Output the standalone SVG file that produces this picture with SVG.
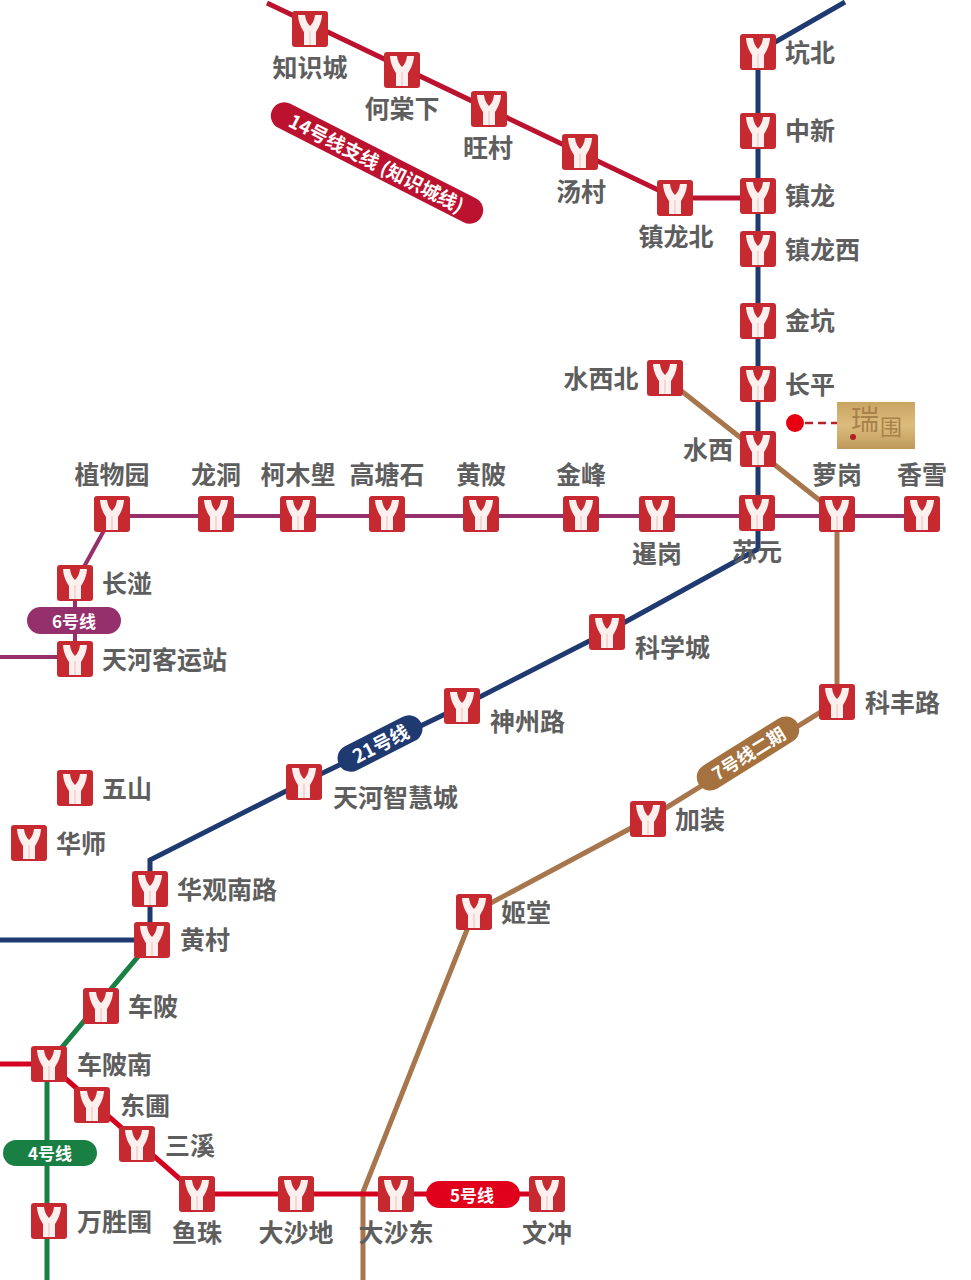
<svg xmlns="http://www.w3.org/2000/svg" width="971" height="1280" viewBox="0 0 971 1280">
<style>
text{font-family:"Noto Sans CJK SC","Liberation Sans",sans-serif}
.n{font-size:25px;font-weight:700;fill:#5e5e5e;text-anchor:middle;dominant-baseline:central}
.s{text-anchor:start}
.b{font-size:17px;font-weight:700;fill:#fff;text-anchor:middle;dominant-baseline:central}
.l{fill:none;stroke-width:5}
.red{stroke:#bb1230}.navy{stroke:#1f3a70}.pur{stroke:#96306c;stroke-width:4}.brn{stroke:#a8764c}.grn{stroke:#1a7f42}.r5{stroke:#d5001f}
</style>
<defs>
<linearGradient id="gold" x1="0" y1="0" x2="0" y2="1"><stop offset="0" stop-color="#c9a562"/><stop offset="0.5" stop-color="#dcbc7e"/><stop offset="1" stop-color="#bd9a5c"/></linearGradient>
<g id="st"><rect x="-18" y="-18" width="36" height="36" rx="3" fill="#c62a30"/><path d="M-12,-14H-5C-4.500,-9 -2.500,-5.500 0,-3C2.500,-5.500 4.500,-9 5,-14H12C11.500,-6 8.500,-1 6,3V16H-6V3C-8.500,-1 -11.500,-6 -12,-14Z" fill="#fbf0ee"/><path d="M0,2V16" stroke="#f0cfcb" stroke-width="1.500"/></g>
</defs>
<rect width="971" height="1280" fill="#fff"/>
<g id="connectors">
<path class="l red" d="M267,3L675,198H758"/>
<path class="l navy" d="M845,2L758,52V549L607,632L462,706L304,782L150,860V940"/>
<path class="l navy" d="M0,940H152"/>
<path class="l brn" d="M665,378L837,514V702L648,819L474,912L363,1192V1280"/>
<path class="l pur" d="M922,516H112L75,583V659"/>
<path class="l pur" d="M0,657H75"/>
<path class="l grn" d="M152,940L48,1064L47,1080V1280"/>
<path class="l r5" d="M0,1064H49L197,1194H547"/>
<path d="M805,423H838" fill="none" stroke="#b8202a" stroke-width="2.500" stroke-dasharray="8 5"/>
</g>
<g id="st-zhishicheng"><use href="#st" x="310" y="29"/><text class="n" x="310" y="66">知识城</text></g>
<g id="st-hetangxia"><use href="#st" x="402" y="70"/><text class="n" x="402" y="107">何棠下</text></g>
<g id="st-wangcun"><use href="#st" x="489" y="109"/><text class="n" x="488" y="146">旺村</text></g>
<g id="st-tangcun"><use href="#st" x="580" y="152"/><text class="n" x="581" y="190">汤村</text></g>
<g id="st-zhenlongbei"><use href="#st" x="675" y="198"/><text class="n" x="676" y="235">镇龙北</text></g>
<g id="st-kengbei"><use href="#st" x="758" y="52"/><text class="n s" x="785" y="51">坑北</text></g>
<g id="st-zhongxin"><use href="#st" x="758" y="131"/><text class="n s" x="785" y="129">中新</text></g>
<g id="st-zhenlong"><use href="#st" x="758" y="196"/><text class="n s" x="785" y="194">镇龙</text></g>
<g id="st-zhenlongxi"><use href="#st" x="758" y="249"/><text class="n s" x="785" y="248">镇龙西</text></g>
<g id="st-jinkeng"><use href="#st" x="758" y="321"/><text class="n s" x="785" y="319">金坑</text></g>
<g id="st-changping"><use href="#st" x="758" y="384"/><text class="n s" x="785" y="383">长平</text></g>
<g id="st-shuixi"><use href="#st" x="758" y="449"/><text class="n" x="708" y="448">水西</text></g>
<g id="st-shuixibei"><use href="#st" x="665" y="378"/><text class="n" x="601" y="377">水西北</text></g>
<g id="st-suyuan"><use href="#st" x="757" y="513"/><text class="n" x="757" y="550">苏元</text></g>
<g id="st-luogang"><use href="#st" x="837" y="514"/><text class="n" x="837" y="473">萝岗</text></g>
<g id="st-xiangxue"><use href="#st" x="922" y="514"/><text class="n" x="922" y="473">香雪</text></g>
<g id="st-xiangang"><use href="#st" x="657" y="514"/><text class="n" x="657" y="552">暹岗</text></g>
<g id="st-jinfeng"><use href="#st" x="581" y="514"/><text class="n" x="581" y="473">金峰</text></g>
<g id="st-huangbei"><use href="#st" x="481" y="514"/><text class="n" x="481" y="473">黄陂</text></g>
<g id="st-gaotangshi"><use href="#st" x="387" y="514"/><text class="n" x="387" y="473">高塘石</text></g>
<g id="st-kemulang"><use href="#st" x="298" y="514"/><text class="n" x="298" y="473">柯木塱</text></g>
<g id="st-longdong"><use href="#st" x="216" y="514"/><text class="n" x="216" y="473">龙洞</text></g>
<g id="st-zhiwuyuan"><use href="#st" x="112" y="514"/><text class="n" x="112" y="473">植物园</text></g>
<g id="st-changban"><use href="#st" x="75" y="583"/><text class="n s" x="102" y="582">长湴</text></g>
<g id="st-tianhekeyunzhan"><use href="#st" x="75" y="659"/><text class="n s" x="102" y="658">天河客运站</text></g>
<g id="st-kexuecheng"><use href="#st" x="607" y="632"/><text class="n s" x="635" y="646">科学城</text></g>
<g id="st-shenzhoulu"><use href="#st" x="462" y="706"/><text class="n s" x="490" y="720">神州路</text></g>
<g id="st-tianhezhihuicheng"><use href="#st" x="304" y="782"/><text class="n s" x="333" y="796">天河智慧城</text></g>
<g id="st-huaguannanlu"><use href="#st" x="150" y="889"/><text class="n s" x="177" y="888">华观南路</text></g>
<g id="st-huangcun"><use href="#st" x="152" y="940"/><text class="n s" x="180" y="938">黄村</text></g>
<g id="st-wushan"><use href="#st" x="75" y="788"/><text class="n s" x="102" y="787">五山</text></g>
<g id="st-huashi"><use href="#st" x="29" y="843"/><text class="n s" x="56" y="842">华师</text></g>
<g id="st-chebei"><use href="#st" x="101" y="1006"/><text class="n s" x="128" y="1005">车陂</text></g>
<g id="st-chebeinan"><use href="#st" x="49" y="1064"/><text class="n s" x="77" y="1063">车陂南</text></g>
<g id="st-dongpu"><use href="#st" x="92" y="1105"/><text class="n s" x="120" y="1104">东圃</text></g>
<g id="st-sanxi"><use href="#st" x="137" y="1144"/><text class="n s" x="165" y="1144">三溪</text></g>
<g id="st-yuzhu"><use href="#st" x="197" y="1194"/><text class="n" x="197" y="1231">鱼珠</text></g>
<g id="st-dashadi"><use href="#st" x="296" y="1194"/><text class="n" x="296" y="1231">大沙地</text></g>
<g id="st-dashadong"><use href="#st" x="396" y="1194"/><text class="n" x="396" y="1231">大沙东</text></g>
<g id="st-wenchong"><use href="#st" x="547" y="1194"/><text class="n" x="547" y="1231">文冲</text></g>
<g id="st-wanshengwei"><use href="#st" x="49" y="1221"/><text class="n s" x="77" y="1220">万胜围</text></g>
<g id="st-jitang"><use href="#st" x="474" y="912"/><text class="n s" x="501" y="911">姬堂</text></g>
<g id="st-jiazhuang"><use href="#st" x="648" y="819"/><text class="n s" x="675" y="818">加装</text></g>
<g id="st-kefenglu"><use href="#st" x="837" y="702"/><text class="n s" x="865" y="701">科丰路</text></g>
<g id="line-14"><rect x="259.500" y="149.500" width="235" height="27" rx="13.500" fill="#bb1230" transform="rotate(27 377 163)"/><text class="b" x="377" y="162" transform="rotate(27 377 162)" style="font-size:19px">14号线支线 (知识城线)</text></g>
<g id="line-6"><rect x="27" y="607" width="94" height="27" rx="13.500" fill="#96306c"/><text class="b" x="74" y="620">6号线</text></g>
<g id="line-21"><rect x="334" y="730" width="92" height="27" rx="13.500" fill="#1f3a70" transform="rotate(-27 380 743.500)"/><text class="b" x="380" y="742.500" transform="rotate(-27 380 742.500)" style="font-size:19px">21号线</text></g>
<g id="line-7"><rect x="690" y="740" width="116" height="27" rx="13.500" fill="#a5713e" transform="rotate(-32 748 753.500)"/><text class="b" x="748" y="752.500" transform="rotate(-32 748 752.500)" style="font-size:18px">7号线二期</text></g>
<g id="line-4"><rect x="3" y="1140" width="94" height="26" rx="13" fill="#1a7f42"/><text class="b" x="50" y="1152">4号线</text></g>
<g id="line-5"><rect x="426" y="1181" width="94" height="27" rx="13.500" fill="#e0001b"/><text class="b" x="472" y="1194">5号线</text></g>
<g id="ruiguan-marker"><circle cx="795" cy="423" r="9" fill="#e60012"/><rect x="837" y="402" width="78" height="47" fill="url(#gold)"/><text x="865" y="430" style="font-size:28px;fill:#a8814a;text-anchor:middle">瑞</text><text x="891" y="435" style="font-size:22px;fill:#a8814a;text-anchor:middle">围</text><circle cx="853" cy="437" r="3" fill="#b02020"/></g>
</svg>
